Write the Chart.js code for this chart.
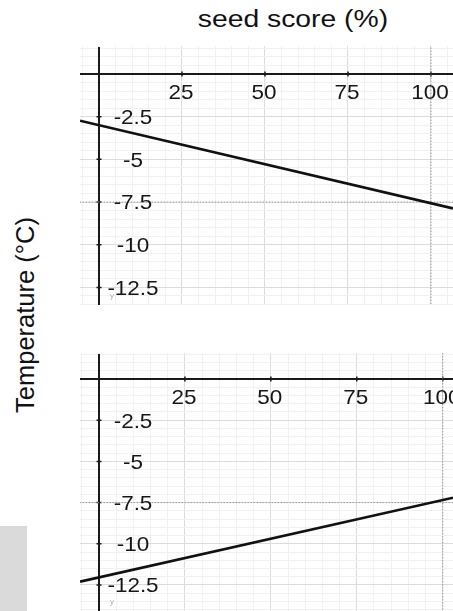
<!DOCTYPE html>
<html>
<head>
<meta charset="utf-8">
<script src="https://cdn.jsdelivr.net/npm/chart.js@4/dist/chart.umd.min.js"></script>
<style>
  html, body { margin: 0; padding: 0; background: #fff; }
  body { width: 453px; height: 611px; position: relative; overflow: hidden; font-family: "Liberation Sans", Arial, sans-serif; }
  .panel { position: absolute; left: 80px; width: 373px; }
  #title { position: absolute; left: 193px; top: 4px; width: 200px; text-align: center; font-size: 23px; line-height: 30px; color: #111; transform: scaleX(1.23); white-space: nowrap; }
  #ylab { position: absolute; left: -85px; top: 300px; width: 220px; height: 30px; line-height: 30px; text-align: center; font-size: 25.5px; color: #111; transform: rotate(-90deg); white-space: nowrap; }
  #graybox { position: absolute; left: 0; top: 526px; width: 27px; height: 85px; background: #dadada; }
</style>
</head>
<body>
<div id="title">seed score (%)</div>
<div id="ylab">Temperature (°C)</div>
<div id="graybox"></div>
<div class="panel" style="top:46px;height:259px"><canvas id="c1" width="373" height="259"></canvas></div>
<div class="panel" style="top:353px;height:258px"><canvas id="c2" width="373" height="258"></canvas></div>
<script>
// ---- data ----
const xTickValues = [25, 50, 75, 100];
const yTickValues = [-2.5, -5, -7.5, -10, -12.5];
const xTickLabels = ["25", "50", "75", "100"];
const yTickLabels = ["-2.5", "-5", "-7.5", "-10", "-12.5"];

// top panel line (seed score vs temperature)
const topLineX = [-5.7, 106.6];
const topLineY = [-2.74, -7.87];
// bottom panel line
const bottomLineX = [-5.5, 103];
const bottomLineY = [-12.3, -7.2];

// dotted guide lines
const guideX = 100;
const guideY = -7.5;

// axis ranges
const topRange = { xmin: -5.72, xmax: 106.63, ymin: -13.53, ymax: 1.64 };
const bottomRange = { xmin: -5.53, xmax: 102.99, ymin: -14.08, ymax: 1.58 };

// ---- drawing ----
function isMult(v, m) { const r = v / m; return Math.abs(r - Math.round(r)) < 1e-6; }

const axesPlugin = {
  id: 'axesPlugin',
  beforeDatasetsDraw(chart) {
    const { ctx, chartArea, scales: { x, y } } = chart;
    const x0 = x.getPixelForValue(0), y0 = y.getPixelForValue(0);
    ctx.save();
    ctx.strokeStyle = '#1a1a1a';
    ctx.lineWidth = 2;
    ctx.beginPath();
    ctx.moveTo(chartArea.left, y0); ctx.lineTo(chartArea.right, y0);
    ctx.moveTo(x0, chartArea.top + 1); ctx.lineTo(x0, chartArea.bottom);
    ctx.stroke();
    // small tick marks
    ctx.lineWidth = 1.5;
    ctx.beginPath();
    xTickValues.forEach(v => { const px = x.getPixelForValue(v); ctx.moveTo(px, y0 - 2.5); ctx.lineTo(px, y0 + 2.5); });
    yTickValues.forEach(v => { const py = y.getPixelForValue(v); ctx.moveTo(x0 - 2.5, py); ctx.lineTo(x0 + 2.5, py); });
    ctx.stroke();
    ctx.restore();
  },
  afterDatasetsDraw(chart) {
    const { ctx, chartArea, scales: { x, y } } = chart;
    const x0 = x.getPixelForValue(0), y0 = y.getPixelForValue(0);
    ctx.save();
    ctx.fillStyle = '#161616';
    ctx.font = '21px "Liberation Sans", Arial, sans-serif';
    ctx.textAlign = 'center';
    ctx.textBaseline = 'middle';
    xTickValues.forEach((v, i) => {
      const px = x.getPixelForValue(v);
      ctx.save(); ctx.translate(px - 1, y0 + 19); ctx.scale(1.07, 1);
      ctx.fillText(xTickLabels[i], 0, 0); ctx.restore();
    });
    yTickValues.forEach((v, i) => {
      const py = y.getPixelForValue(v);
      ctx.save(); ctx.translate(x0 + 34, py + 1.5); ctx.scale(1.07, 1);
      ctx.fillText(yTickLabels[i], 0, 0); ctx.restore();
    });
    // tiny axis name
    ctx.fillStyle = '#b0b0b0';
    ctx.font = '8px "Liberation Sans", Arial, sans-serif';
    ctx.fillText('y', x0 + 13, chartArea.bottom - 9);
    ctx.restore();
  }
};

function makeChart(id, range, lineX, lineY) {
  const gridX = {
    color: c => isMult(c.tick.value, 25) ? '#dcdcdc' : '#f1f1f1',
    lineWidth: 1, drawTicks: false
  };
  const gridY = {
    color: c => isMult(c.tick.value, 2.5) ? '#dcdcdc' : '#f1f1f1',
    lineWidth: 1, drawTicks: false
  };
  new Chart(document.getElementById(id), {
    type: 'scatter',
    data: {
      datasets: [
        {
          data: [{ x: guideX, y: range.ymin - 1 }, { x: guideX, y: range.ymax + 1 }],
          showLine: true, borderColor: '#9a9a9a', borderWidth: 1, borderDash: [1.5, 1.5],
          pointRadius: 0, order: 3
        },
        {
          data: [{ x: range.xmin - 1, y: guideY }, { x: range.xmax + 1, y: guideY }],
          showLine: true, borderColor: '#9a9a9a', borderWidth: 1, borderDash: [1.5, 1.5],
          pointRadius: 0, order: 3
        },
        {
          data: lineX.map((v, i) => ({ x: v, y: lineY[i] })),
          showLine: true, borderColor: '#111', borderWidth: 2.6,
          pointRadius: 0, order: 1
        }
      ]
    },
    options: {
      responsive: false,
      animation: false,
      layout: { padding: 0 },
      plugins: { legend: { display: false }, tooltip: { enabled: false } },
      scales: {
        x: {
          type: 'linear', min: range.xmin, max: range.xmax,
          grid: gridX, border: { display: false },
          ticks: { display: false, stepSize: 5, maxTicksLimit: 1000, autoSkip: false, includeBounds: false }
        },
        y: {
          type: 'linear', min: range.ymin, max: range.ymax,
          grid: gridY, border: { display: false },
          ticks: { display: false, stepSize: 0.5, maxTicksLimit: 1000, autoSkip: false, includeBounds: false }
        }
      }
    },
    plugins: [axesPlugin]
  });
}

makeChart('c1', topRange, topLineX, topLineY);
makeChart('c2', bottomRange, bottomLineX, bottomLineY);
</script>
</body>
</html>
